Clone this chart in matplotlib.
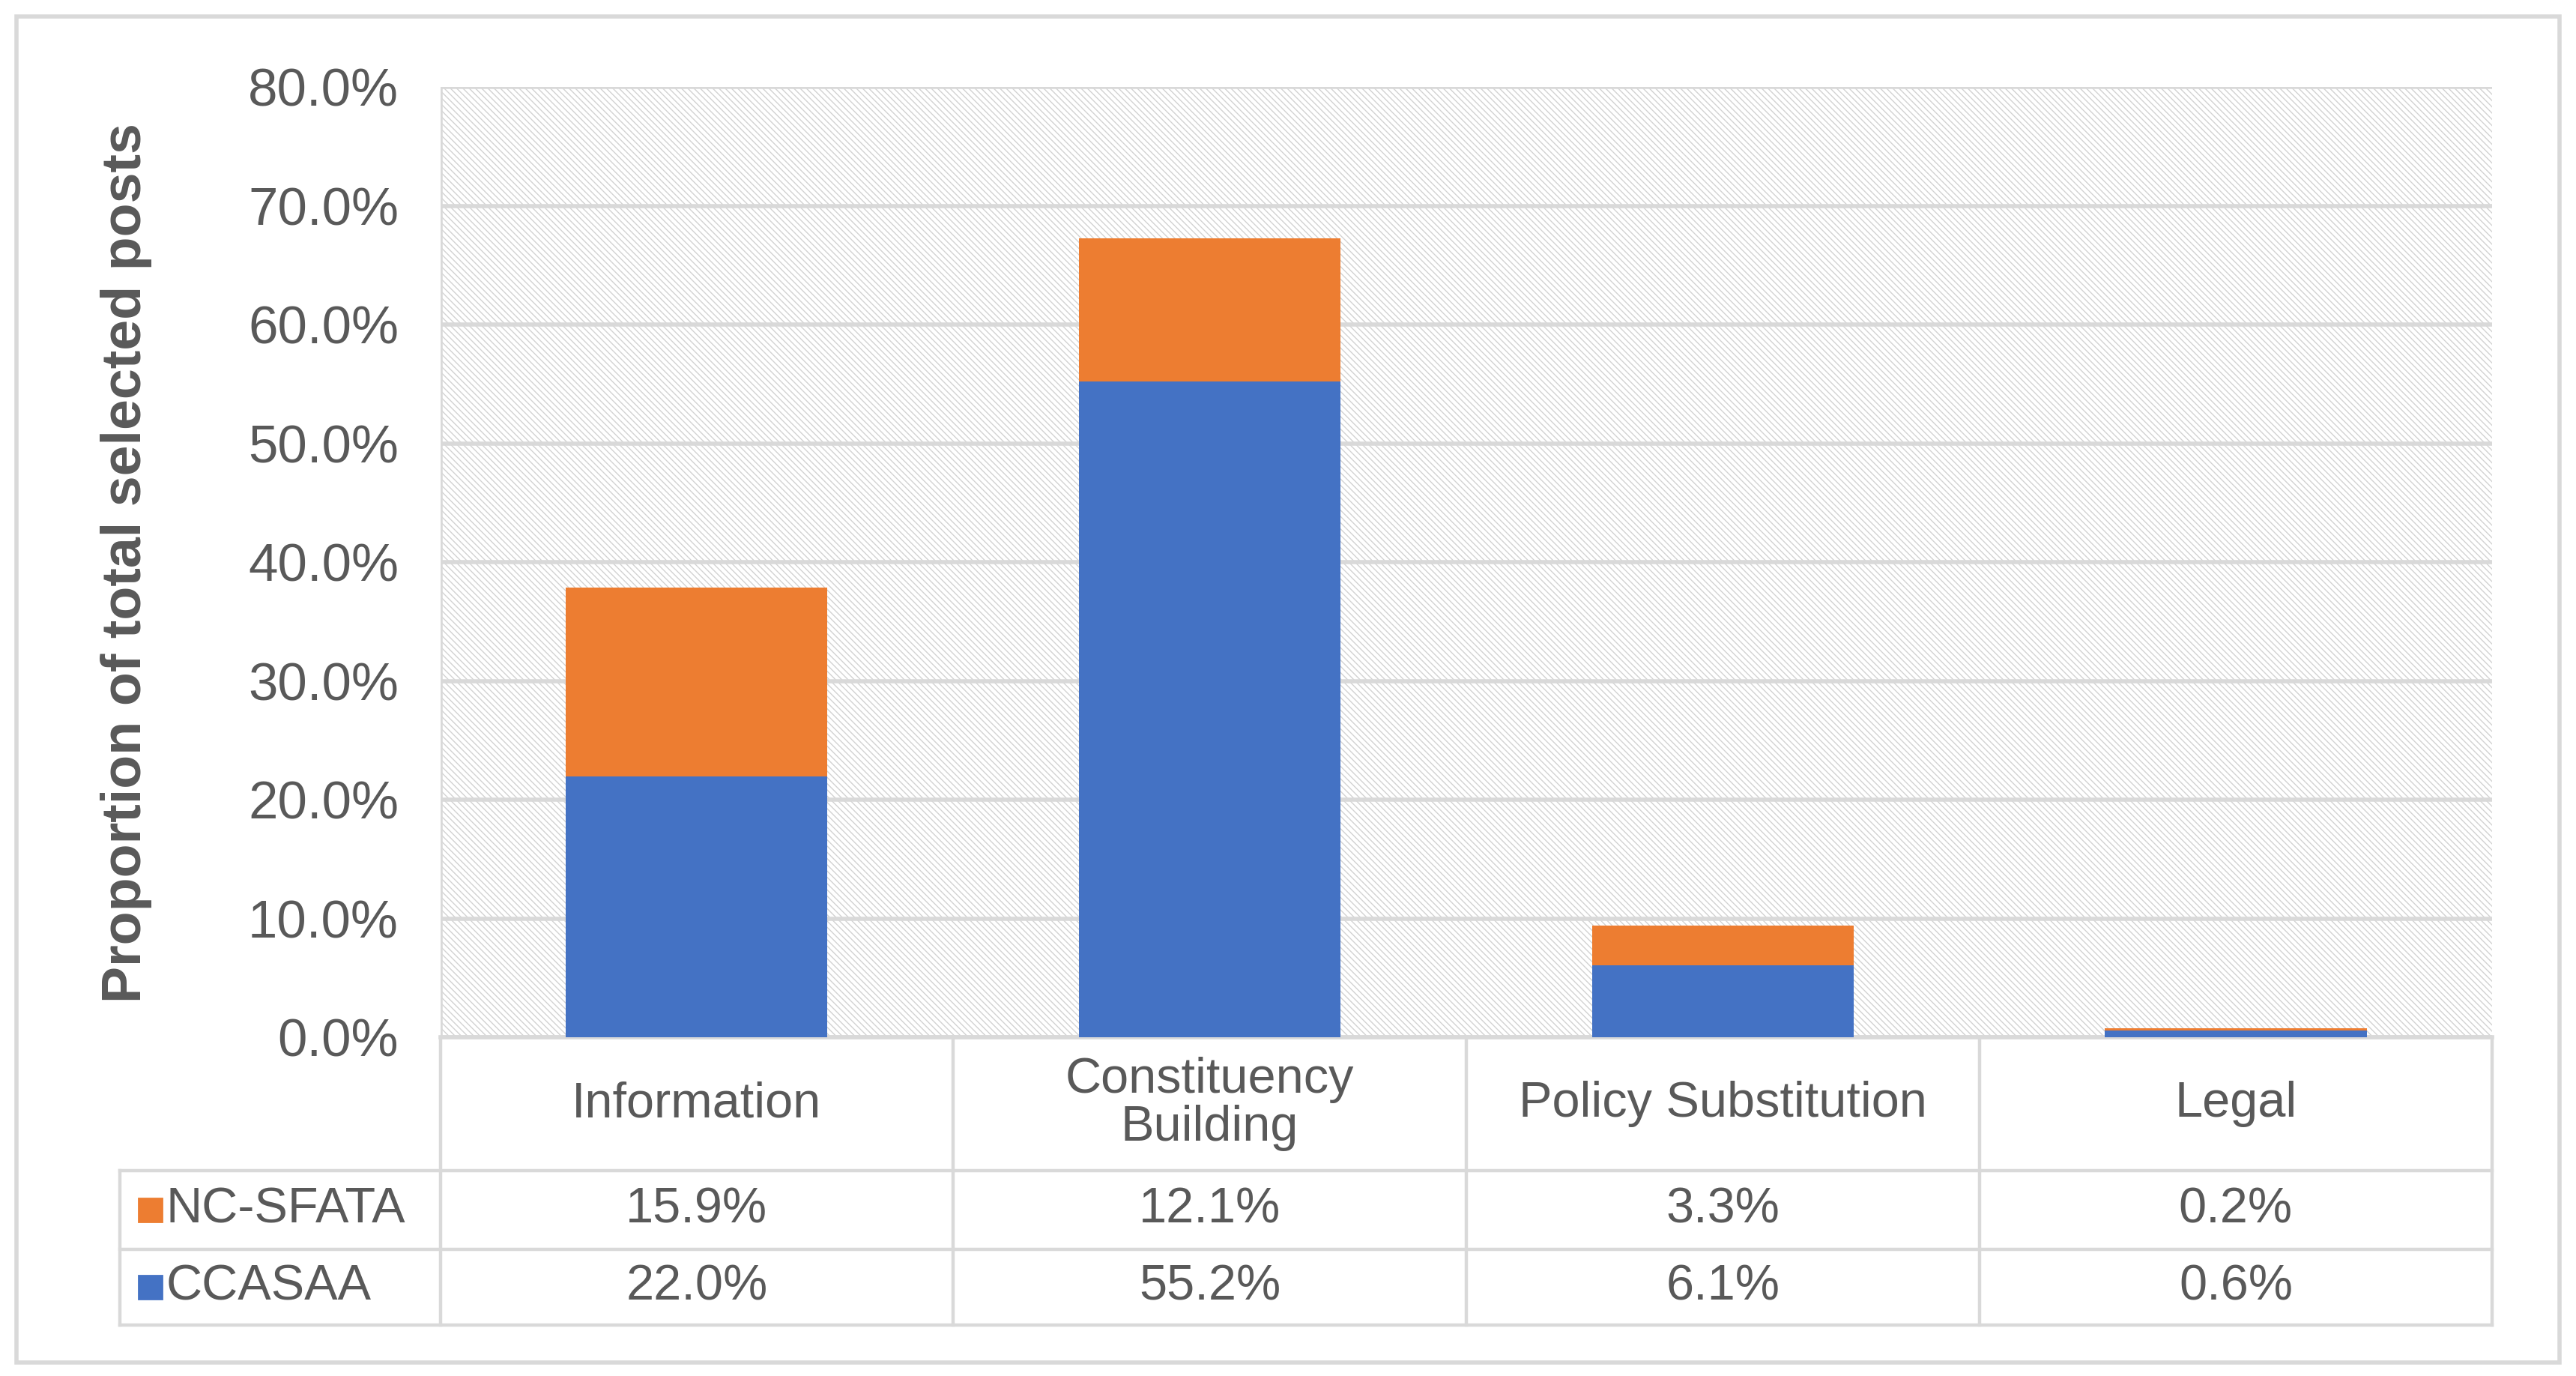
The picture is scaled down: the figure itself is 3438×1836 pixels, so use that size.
import matplotlib.pyplot as plt
import matplotlib.transforms as mtransforms
from matplotlib.patches import Rectangle
from matplotlib.lines import Line2D

categories = ['Information', 'Constituency\nBuilding', 'Policy Substitution', 'Legal']
series_names = ['NC-SFATA', 'CCASAA']
ccasaa = [22.0, 55.2, 6.1, 0.6]
nc_sfata = [15.9, 12.1, 3.3, 0.2]
yticks = [0, 10, 20, 30, 40, 50, 60, 70, 80]

blue = '#4472C4'
orange = '#ED7D31'
text_c = '#595959'
line_c = '#D9D9D9'

plt.rcParams['font.family'] = ['Liberation Sans', 'DejaVu Sans']
plt.rcParams['hatch.linewidth'] = 0.5
plt.rcParams['hatch.color'] = '#D2D2D2'

fig = plt.figure(figsize=(17.19, 9.18), dpi=200)
ax = fig.add_axes([0.1709, 0.246, 0.9675 - 0.1709, 0.9367 - 0.246])

x = list(range(len(categories)))
bg = Rectangle((0, 0), 1, 1, transform=ax.transAxes, facecolor='white',
               edgecolor='#D2D2D2', hatch='\\\\\\\\\\\\\\\\', linewidth=0, zorder=0)
ax.add_patch(bg)

ax.bar(x, ccasaa, width=0.51, color=blue, zorder=3)
ax.bar(x, nc_sfata, width=0.51, bottom=ccasaa, color=orange, zorder=3)

ax.set_xlim(-0.5, 3.5)
ax.set_ylim(0, 80)
ax.set_yticks(yticks)
ax.set_yticklabels(['%.1f%%' % v for v in yticks], fontsize=25.5, color=text_c)
ax.tick_params(axis='y', length=0, pad=20)
ax.set_xticks([])
for s in ['top', 'right', 'left']:
    ax.spines[s].set_visible(False)
ax.spines['bottom'].set_color(line_c)
ax.spines['bottom'].set_linewidth(2.0)
for yy in yticks:
    ax.axhline(yy, color=line_c, linewidth=2.0, zorder=1)
ax.axvline(-0.5, color=line_c, linewidth=2.0, zorder=1)

fig.text(0.049, 0.591, 'Proportion of total selected posts', rotation=90,
         fontsize=26.5, fontweight='bold', color=text_c, ha='center', va='center')

# data table under the chart
tr = mtransforms.blended_transform_factory(ax.transData, fig.transFigure)
y_head_top = 0.246
y_row1 = 0.1493
y_row2 = 0.092
y_bot = 0.037
x_left = -0.5 - (0.1709 - 0.0466) / (0.9675 - 0.1709) * 4


def tline(xs, ys):
    fig.add_artist(Line2D(xs, ys, transform=tr, color=line_c, linewidth=1.6))


for b in [-0.5, 0.5, 1.5, 2.5, 3.5]:
    tline([b, b], [y_head_top, y_bot])
tline([x_left, x_left], [y_row1, y_bot])
for yy in [y_row1, y_row2, y_bot]:
    tline([x_left, 3.5], [yy, yy])

for i, c in enumerate(categories):
    fig.text(i, (y_head_top + y_row1) / 2, c, transform=tr, ha='center', va='center',
             fontsize=24, color=text_c, linespacing=1.05)
    fig.text(i, (y_row1 + y_row2) / 2, '%.1f%%' % nc_sfata[i], transform=tr,
             ha='center', va='center', fontsize=24, color=text_c)
    fig.text(i, (y_row2 + y_bot) / 2, '%.1f%%' % ccasaa[i], transform=tr,
             ha='center', va='center', fontsize=24, color=text_c)

for name, col, yc in [(series_names[0], orange, (y_row1 + y_row2) / 2),
                      (series_names[1], blue, (y_row2 + y_bot) / 2)]:
    fig.add_artist(Rectangle((x_left + 0.036, yc - 0.0085), 0.045, 0.017,
                             transform=tr, color=col))
    fig.text(x_left + 0.09, yc, name, transform=tr, ha='left', va='center',
             fontsize=24, color=text_c)

fig.add_artist(Rectangle((0.0064, 0.010), 0.9872, 0.978, transform=fig.transFigure,
                         fill=False, edgecolor=line_c, linewidth=2.0))

fig.savefig('out.png', dpi=200, facecolor='white')
